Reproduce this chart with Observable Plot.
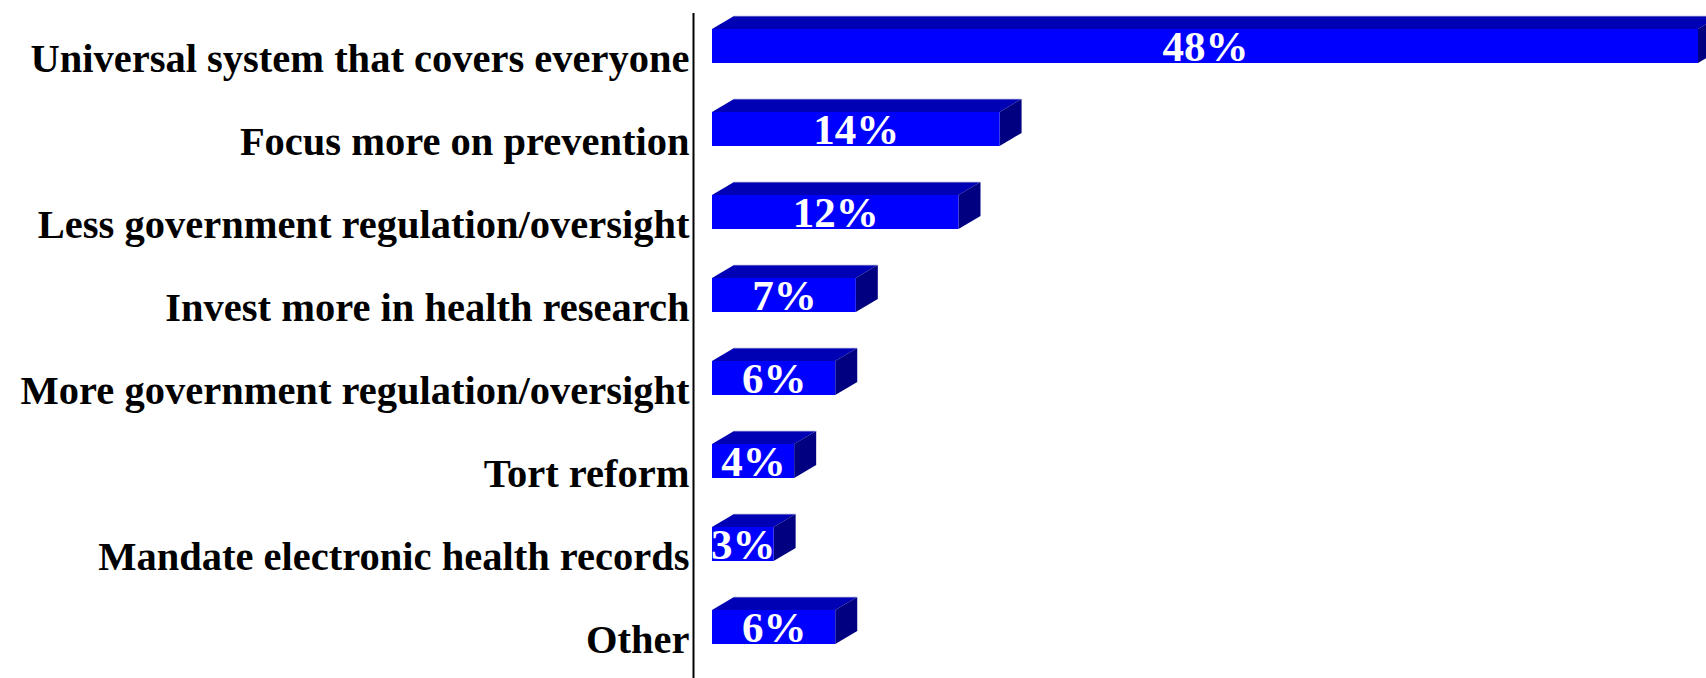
<!DOCTYPE html>
<html><head><meta charset="utf-8">
<script src="https://cdn.jsdelivr.net/npm/d3@7"></script>
<script src="https://cdn.jsdelivr.net/npm/@observablehq/plot@0.6"></script>
<style>body{margin:0;background:#fff;overflow:hidden}</style>
</head><body><div id="chart"></div>
<script>
const categories = [
  "Universal system that covers everyone",
  "Focus more on prevention",
  "Less government regulation/oversight",
  "Invest more in health research",
  "More government regulation/oversight",
  "Tort reform",
  "Mandate electronic health records",
  "Other"
];
const values = [48, 14, 12, 7, 6, 4, 3, 6];
const data = categories.map((c, i) => ({category: c, value: values[i]}));

const depthX = 22, depthY = 13;

function faces(index, scales, v, dims, ctx) {
  const g = d3.create("svg:g");
  const bw = (scales.y && scales.y.bandwidth) ? scales.y.bandwidth() : scales.scales.y.bandwidth;
  for (const i of index) {
    const x0 = v.x1[i], x1 = v.x2[i], y0 = v.y[i], y1 = y0 + bw;
    g.append("polygon")
      .attr("points", [[x0, y0], [x1, y0], [x1 + depthX, y0 - depthY], [x0 + depthX, y0 - depthY]].join(" "))
      .attr("fill", "#0000b4");
    g.append("polygon")
      .attr("points", [[x1, y0], [x1 + depthX, y0 - depthY], [x1 + depthX, y1 - depthY], [x1, y1]].join(" "))
      .attr("fill", "#000080");
    g.append("line")
      .attr("x1", x0 + depthX).attr("y1", y0 - depthY)
      .attr("x2", x1 + depthX).attr("y2", y0 - depthY)
      .attr("stroke", "#c8c8e0").attr("stroke-width", 0.8);
  }
  return g.node();
}

const chart = Plot.plot({
  width: 1706,
  height: 678,
  marginLeft: 712,
  marginRight: 8,
  marginTop: 29,
  marginBottom: 27,
  style: {fontFamily: "'Liberation Serif', 'Times New Roman', serif", background: "#fff"},
  x: {domain: [0, 48], axis: null},
  y: {domain: categories, paddingInner: 0.595, paddingOuter: 0, align: 0, axis: null},
  marks: [
    Plot.barX(data, {x: "value", y: "category", render: faces}),
    Plot.barX(data, {x: "value", y: "category", fill: "#0000ff"}),
    Plot.ruleX([0], {dx: -19, insetTop: -16, insetBottom: -27, stroke: "black", strokeWidth: 2}),
    Plot.text(data, {
      y: "category", text: "category", frameAnchor: "left", textAnchor: "end",
      dx: -23, dy: 13, fontSize: 40.5, fontWeight: "bold", fill: "black"
    }),
    Plot.text(data, {
      x: d => d.value / 2, y: "category", text: d => d.value + "%",
      fill: "white", fontSize: 43, fontWeight: "bold", dy: 1
    })
  ]
});
document.getElementById("chart").appendChild(chart);
</script>
</body></html>
